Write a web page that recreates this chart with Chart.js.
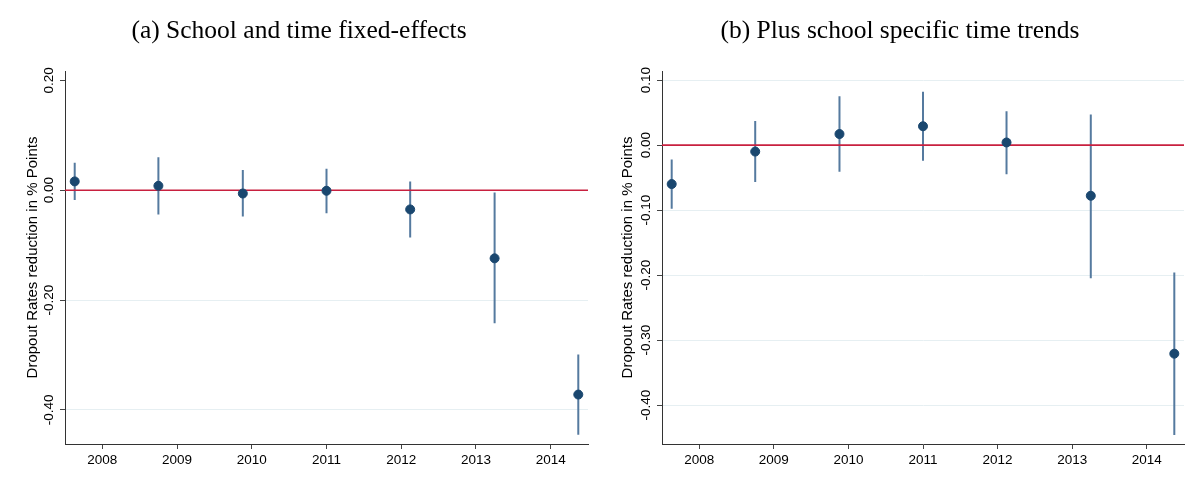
<!DOCTYPE html>
<html>
<head>
<meta charset="utf-8">
<script src="https://cdn.jsdelivr.net/npm/chart.js@4.4.0/dist/chart.umd.min.js"></script>
<style>
  html, body { margin: 0; padding: 0; background: #fff; overflow: hidden; }
  #wrap { position: relative; width: 1193px; height: 478px; overflow: hidden; }
  canvas { position: absolute; top: 0; }
  #chartA { left: 0; }
  #chartB { left: 600px; }
</style>
</head>
<body>
<div id="wrap">
  <canvas id="chartA" width="600" height="478"></canvas>
  <canvas id="chartB" width="600" height="478"></canvas>
</div>
<script>
"use strict";
// where the estimates sit on the year axis (spread evenly, like the Stata plot)
const estX = [2007.63, 2008.75, 2009.88, 2011.0, 2012.12, 2013.25, 2014.37];
const yearTicks = [2008, 2009, 2010, 2011, 2012, 2013, 2014];
const xMin = 2007.5;
const xMax = 2014.5;
const yTitle = 'Dropout Rates reduction in % Points';

// (a) school and time fixed-effects
const titleA = '(a) School and time fixed-effects';
const coefA = [0.016, 0.008, -0.006, -0.001, -0.035, -0.124, -0.372];
const loA = [-0.018, -0.044, -0.048, -0.042, -0.086, -0.242, -0.445];
const hiA = [0.050, 0.060, 0.037, 0.039, 0.016, -0.004, -0.299];
const yTicksA = [0.20, 0.00, -0.20, -0.40];

// (b) plus school specific time trends
const titleB = '(b) Plus school specific time trends';
const coefB = [-0.060, -0.010, 0.017, 0.029, 0.004, -0.078, -0.321];
const loB = [-0.098, -0.057, -0.041, -0.024, -0.045, -0.205, -0.446];
const hiB = [-0.022, 0.037, 0.075, 0.082, 0.052, 0.047, -0.196];
const yTicksB = [0.10, 0.00, -0.10, -0.20, -0.30, -0.40];

const sans = "'Liberation Sans', Arial, Helvetica, sans-serif";
const serif = "'Liberation Serif', 'Times New Roman', serif";

function drawPanel(canvasId, title, coef, lo, hi, yTicks, yMin, yMax, noGrid, lay) {
    // confidence intervals as one line dataset, broken by null points
    const ciData = [];
    for (let i = 0; i < estX.length; i++) {
        ciData.push({x: estX[i], y: lo[i]});
        ciData.push({x: estX[i], y: hi[i]});
        ciData.push({x: estX[i], y: null});
    }
    const pts = estX.map((x, i) => ({x: x, y: coef[i]}));
    const zero = [{x: xMin, y: 0}, {x: xMax, y: 0}];

    const config = {
        type: 'scatter',
        data: {
            datasets: [
                {
                    data: pts,
                    backgroundColor: '#1a476f',
                    borderColor: '#1a476f',
                    pointRadius: 4.5,
                    order: 0
                },
                {
                    data: zero,
                    showLine: true,
                    borderColor: '#c8203f',
                    borderWidth: 1.6,
                    pointRadius: 0,
                    order: 1
                },
                {
                    data: ciData,
                    showLine: true,
                    spanGaps: false,
                    borderColor: '#557a9f',
                    borderWidth: 2,
                    pointRadius: 0,
                    order: 2
                }
            ]
        },
        options: {
            responsive: false,
            animation: false,
            devicePixelRatio: 1,
            layout: {padding: {left: lay.padL, right: lay.padR, top: 0, bottom: 0}},
            plugins: {
                legend: {display: false},
                tooltip: {enabled: false},
                title: {
                    display: true,
                    text: title,
                    color: '#000',
                    font: {family: serif, size: 25.5, weight: 'normal'},
                    padding: {top: 16, bottom: 24.4}
                }
            },
            scales: {
                x: {
                    type: 'linear',
                    min: xMin,
                    max: xMax,
                    afterBuildTicks: (scale) => { scale.ticks = yearTicks.map(v => ({value: v})); },
                    afterFit: (scale) => { scale.height = 34; },
                    grid: {drawOnChartArea: false, tickLength: 5, tickColor: '#444'},
                    border: {color: '#333', width: 1},
                    ticks: {
                        autoSkip: false,
                        maxRotation: 0,
                        padding: 3,
                        color: '#000',
                        font: {family: sans, size: 13.5},
                        callback: (v) => String(v)
                    }
                },
                y: {
                    type: 'linear',
                    min: yMin,
                    max: yMax,
                    afterBuildTicks: (scale) => { scale.ticks = yTicks.map(v => ({value: v})); },
                    afterFit: (scale) => { scale.width = lay.yWidth; },
                    grid: {
                        color: (ctx) => (ctx.tick && noGrid.includes(ctx.tick.value)) ? 'rgba(0,0,0,0)' : '#e6eff2',
                        lineWidth: 1,
                        tickLength: 5,
                        tickColor: '#444'
                    },
                    border: {color: '#333', width: 1},
                    ticks: {
                        autoSkip: false,
                        minRotation: 90,
                        maxRotation: 90,
                        crossAlign: 'center',
                        padding: -5,
                        color: '#000',
                        font: {family: sans, size: 13.5},
                        callback: (v) => v.toFixed(2)
                    },
                    title: {
                        display: true,
                        text: yTitle,
                        color: '#000',
                        font: {family: sans, size: 15},
                        padding: {top: lay.yTitlePad, bottom: 0}
                    }
                }
            }
        }
    };
    return new Chart(document.getElementById(canvasId), config);
}

drawPanel('chartA', titleA, coefA, loA, hiA, yTicksA, -0.462, 0.217, [0.2],
    {padL: 10, padR: 12, yWidth: 55, yTitlePad: 14});
drawPanel('chartB', titleB, coefB, loB, hiB, yTicksB, -0.46, 0.114, [],
    {padL: 16, padR: 16, yWidth: 46, yTitlePad: 3});
</script>
</body>
</html>
